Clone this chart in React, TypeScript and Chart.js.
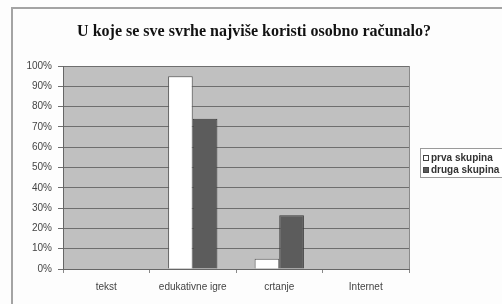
import React, { useEffect, useRef } from "react";
import { Chart, registerables } from "chart.js";

Chart.register(...registerables);

const categories = ["tekst", "edukativne igre", "crtanje", "Internet"];
const prvaSkupina = [0, 95, 5, 0];
const drugaSkupina = [0, 74, 26.5, 0];
const seriesLabels = ["prva skupina", "druga skupina"];
const yTicks = [0, 10, 20, 30, 40, 50, 60, 70, 80, 90, 100];
const titleText = "U koje se sve svrhe najviše koristi osobno računalo?";

const framePlugin = {
  id: "frameBg",
  beforeDraw(chart: any) {
    const { ctx, chartArea } = chart;
    ctx.save();
    ctx.fillStyle = "#fdfdfd";
    ctx.fillRect(0, 0, chart.width, chart.height);
    // outer frame
    ctx.strokeStyle = "#a4a4a4";
    ctx.lineWidth = 2;
    ctx.beginPath();
    ctx.moveTo(12, chart.height + 5);
    ctx.lineTo(12, 8);
    ctx.lineTo(chart.width + 5, 8);
    ctx.stroke();
    // plot background
    ctx.fillStyle = "#c0c0c0";
    ctx.fillRect(chartArea.left, chartArea.top, chartArea.right - chartArea.left, chartArea.bottom - chartArea.top);
    ctx.restore();
  },
  afterDraw(chart: any) {
    const { ctx, chartArea } = chart;
    ctx.save();
    // title
    ctx.fillStyle = "#111";
    ctx.font = "bold 16px 'Liberation Serif', 'Times New Roman', serif";
    ctx.textAlign = "center";
    ctx.textBaseline = "middle";
    ctx.fillText(titleText, 254, 32);
    // right border of plot area
    ctx.strokeStyle = "#8a8a8a";
    ctx.lineWidth = 1;
    ctx.beginPath();
    ctx.moveTo(chartArea.right + 0.5, chartArea.top);
    ctx.lineTo(chartArea.right + 0.5, chartArea.bottom);
    ctx.stroke();
    // legend
    const lx = 420, ly = 148, lw = 90, lh = 29;
    ctx.fillStyle = "#ffffff";
    ctx.fillRect(lx, ly, lw, lh);
    ctx.strokeStyle = "#9a9a9a";
    ctx.strokeRect(lx + 0.5, ly + 0.5, lw, lh);
    ctx.font = "bold 10px 'Liberation Sans', Arial, sans-serif";
    ctx.textBaseline = "middle";
    ctx.textAlign = "left";
    chart.data.datasets.forEach((ds: any, i: number) => {
      const y = 158 + i * 12;
      ctx.fillStyle = ds.backgroundColor;
      ctx.fillRect(423, y - 3, 6, 6);
      ctx.strokeStyle = "#444";
      ctx.strokeRect(423.5, y - 2.5, 5, 5);
      ctx.fillStyle = "#333";
      ctx.fillText(ds.label, 431, y);
    });
    ctx.restore();
  },
};

export default function App() {
  const ref = useRef<HTMLCanvasElement>(null);
  useEffect(() => {
    if (!ref.current) return;
    const chart = new Chart(ref.current, {
      type: "bar",
      data: {
        labels: categories,
        datasets: [
          {
            label: seriesLabels[0],
            data: prvaSkupina,
            backgroundColor: "#ffffff",
            borderColor: "#5a5a5a",
            borderWidth: 1,
            categoryPercentage: 0.57,
            barPercentage: 1.0,
          },
          {
            label: seriesLabels[1],
            data: drugaSkupina,
            backgroundColor: "#5c5c5c",
            borderColor: "#3a3a3a",
            borderWidth: 1,
            categoryPercentage: 0.57,
            barPercentage: 1.0,
          },
        ],
      },
      options: {
        responsive: false,
        animation: false,
        layout: { padding: { left: 0, right: 93, top: 66, bottom: 0 } },
        plugins: {
          legend: { display: false },
          tooltip: { enabled: false },
          title: { display: false },
        },
        scales: {
          x: {
            grid: { display: true, drawOnChartArea: false, offset: true, tickLength: 4, color: "#888" },
            border: { color: "#666" },
            ticks: { color: "#444", padding: 8, font: { family: "'Liberation Sans', Arial, sans-serif", size: 10 }, maxRotation: 0 },
            afterFit(scale: any) { scale.height = 35; },
          },
          y: {
            min: 0,
            max: 100,
            afterBuildTicks(scale: any) { scale.ticks = yTicks.map((v) => ({ value: v })); },
            grid: { color: "#6e6e6e", tickLength: 5, lineWidth: 1 },
            border: { color: "#666" },
            ticks: {
              color: "#444",
              padding: 6,
              font: { family: "'Liberation Sans', Arial, sans-serif", size: 10 },
              callback: (v: any) => v + "%",
            },
            afterFit(scale: any) { scale.width = 63; },
          },
        },
      },
      plugins: [framePlugin],
    });
    return () => chart.destroy();
  }, []);
  return (
    <div style={{ position: "absolute", left: 0, top: 0, width: 502, height: 304 }}>
      <canvas ref={ref} width={502} height={304} />
    </div>
  );
}
